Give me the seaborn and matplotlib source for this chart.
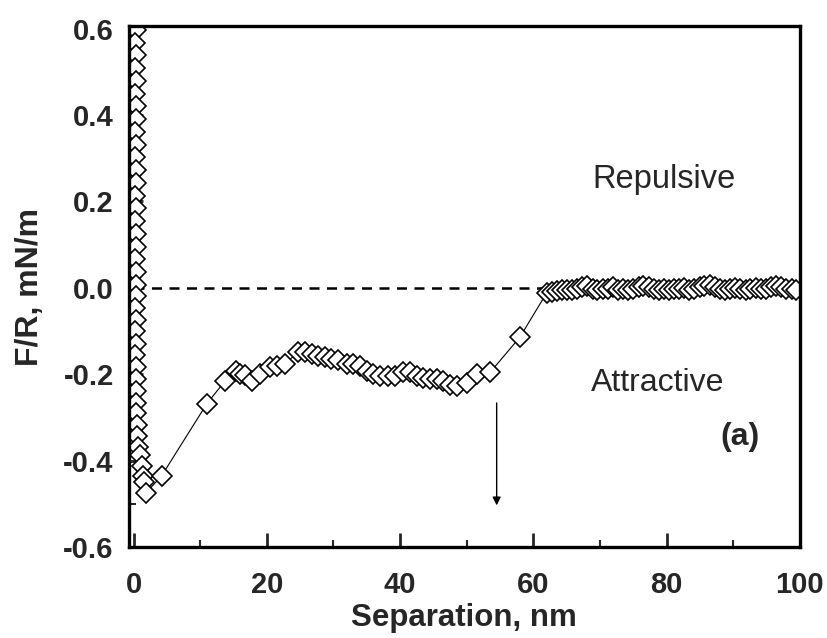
import matplotlib
matplotlib.use("Agg")
import matplotlib.pyplot as plt
import seaborn as sns
import pandas as pd
from matplotlib.ticker import MultipleLocator

# ---- data ----
col_x = [0.3, 0.2, 0.35, 0.25, 0.3, 0.2, 0.35, 0.3, 0.25, 0.35, 0.2, 0.3, 0.35, 0.25,
         0.3, 0.2, 0.35, 0.3, 0.25, 0.3, 0.35]
col_y = [0.597, 0.567, 0.538, 0.508, 0.479, 0.449, 0.420, 0.390, 0.361, 0.331, 0.302,
         0.272, 0.243, 0.213, 0.184, 0.154, 0.125, 0.095, 0.066, 0.036, 0.006]
low_x = [0.3, 0.2, 0.35, 0.25, 0.3, 0.25, 0.35, 0.3, 0.35, 0.3, 0.4, 0.45, 0.5, 0.6,
         0.9, 1.2, 1.4, 1.6, 1.9]
low_y = [-0.020, -0.047, -0.074, -0.100, -0.129, -0.156, -0.184, -0.212, -0.238, -0.267,
         -0.290, -0.318, -0.344, -0.368, -0.388, -0.412, -0.435, -0.450, -0.474]
mid_x = [4.2, 11.0, 13.7, 15.4, 16.0, 16.7, 17.7, 19.0, 20.5, 21.5, 22.7, 24.7, 25.7,
         26.7, 27.7, 28.7, 29.7, 30.7, 32.0, 33.0, 34.0, 35.0, 36.0, 37.0, 38.2, 39.2,
         40.5, 41.5, 42.5, 43.5, 44.5, 45.5, 46.5, 47.5, 48.5, 50.0, 51.5, 53.5, 58.0]
mid_y = [-0.435, -0.268, -0.216, -0.192, -0.200, -0.202, -0.216, -0.200, -0.184, -0.180,
         -0.176, -0.149, -0.149, -0.153, -0.157, -0.161, -0.165, -0.168, -0.176, -0.176,
         -0.180, -0.192, -0.200, -0.204, -0.204, -0.204, -0.196, -0.196, -0.204, -0.208,
         -0.212, -0.212, -0.216, -0.224, -0.227, -0.220, -0.200, -0.196, -0.114]
flat_x = [62.0, 62.8, 63.5, 64.3, 65.0, 65.8, 66.6, 67.3, 68.1, 68.9, 69.6, 70.4, 71.2,
          71.9, 72.7, 73.5, 74.2, 75.0, 75.8, 76.5, 77.3, 78.1, 78.8, 79.6, 80.4, 81.1,
          81.9, 82.7, 83.4, 84.2, 85.0, 85.7, 86.5, 87.3, 88.0, 88.8, 89.6, 90.3, 91.1,
          91.9, 92.6, 93.4, 94.2, 94.9, 95.7, 96.5, 97.2, 98.0, 98.8, 99.5]
flat_y = [-0.012, -0.010, -0.008, -0.006, -0.004, -0.006, -0.002, 0.002, 0.004, -0.002,
          -0.004, -0.002, -0.003, 0.001, -0.004, -0.003, -0.005, -0.002, 0.003, 0.004,
          0.001, -0.003, -0.004, -0.002, -0.004, -0.003, -0.002, -0.001, -0.004, -0.002,
          0.002, 0.004, 0.006, 0.003, -0.002, -0.004, -0.003, -0.001, -0.003, -0.004,
          -0.002, -0.001, -0.003, -0.002, 0.002, 0.004, 0.001, -0.003, -0.002, -0.004]

sep = col_x + low_x + mid_x + flat_x
force = col_y + low_y + mid_y + flat_y
df = pd.DataFrame({"Separation": sep, "Force": force})

xticks = [0, 20, 40, 60, 80, 100]
yticks = [-0.6, -0.4, -0.2, 0.0, 0.2, 0.4, 0.6]
ytick_labels = ["-0.6", "-0.4", "-0.2", "0.0", "0.2", "0.4", "0.6"]

# ---- style ----
sns.set_style("ticks")
plt.rcParams["font.family"] = ["Liberation Sans", "DejaVu Sans"]

fig = plt.figure(figsize=(8.27, 6.38), dpi=100)
ax = fig.add_axes([0.156, 0.1426, 0.811, 0.8166])

# dashed zero reference line
ax.hlines(0, 0, 62, colors="black", linestyles=(0, (4, 3)), linewidth=1.8, zorder=1)

sns.lineplot(data=df, x="Separation", y="Force", sort=False, estimator=None, ax=ax,
             color="black", linewidth=0.8, marker="D", markersize=9.8,
             markerfacecolor="white", markeredgecolor="black", markeredgewidth=1.2,
             zorder=2)

ax.annotate("", xy=(54.5, -0.51), xytext=(54.5, -0.26),
            arrowprops=dict(arrowstyle="-|>", color="black", lw=1.0, mutation_scale=12))

ax.text(79.6, 0.25, "Repulsive", fontsize=23.5, ha="center", va="center")
ax.text(78.7, -0.22, "Attractive", fontsize=23, ha="center", va="center")
ax.text(91.0, -0.345, "(a)", fontsize=23, fontweight="bold", ha="center", va="center")

ax.set_xlim(-0.7, 100)
ax.set_ylim(-0.6, 0.606)
ax.set_xticks(xticks)
ax.set_yticks(yticks)
ax.set_xticklabels([str(t) for t in xticks])
ax.set_yticklabels(ytick_labels)
ax.xaxis.set_minor_locator(MultipleLocator(10))
ax.yaxis.set_minor_locator(MultipleLocator(0.1))
ax.tick_params(axis="both", which="major", direction="in", length=10, width=2,
               labelsize=21)
ax.tick_params(axis="x", which="major", pad=17)
ax.tick_params(axis="y", which="major", pad=11)
ax.tick_params(axis="both", which="minor", direction="in", length=5, width=1.5)
ax.tick_params(top=False, right=False)
for lab in ax.get_xticklabels() + ax.get_yticklabels():
    lab.set_fontweight("bold")
for sp in ax.spines.values():
    sp.set_visible(True)
    sp.set_linewidth(2.4)
    sp.set_color("black")

ax.set_xlabel("Separation, nm", fontsize=22.5, fontweight="bold", labelpad=3)
ax.set_ylabel("F/R, mN/m", fontsize=23, fontweight="bold", labelpad=13)

fig.savefig("out.png", dpi=100)
